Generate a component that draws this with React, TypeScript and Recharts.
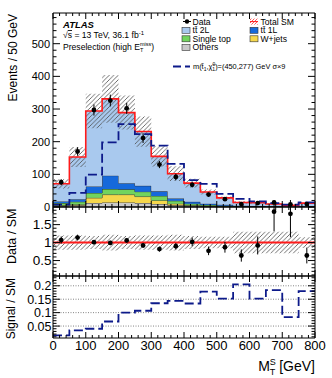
import React from 'react';
import { ComposedChart, Area, Line, Scatter, ErrorBar, XAxis, YAxis, ReferenceLine } from 'recharts';

const FONT = '"Liberation Sans", Arial, Helvetica, sans-serif';

// ---------------- data ----------------
const binLow = [0, 50, 100, 150, 200, 250, 300, 350, 400, 450, 500, 550, 600, 650, 700, 750];
const binWidth = 50;
const xMax = 800;

const dataCounts = [76, 170, 297, 326, 302, 211, 130, 92, 68, 38, 24, 9, 12, 14, 8, 9];
const dataErr = [9, 13, 17, 18, 17, 15, 11, 10, 8, 6, 5, 3, 3.5, 3.7, 2.8, 3];
const totalSM = [71, 153, 294, 331, 289, 231, 155, 102, 73, 46, 28, 14, 13, 9, 5, 12];
const others = [3, 5, 12, 14, 14, 12, 9, 5, 3, 2, 1, 0.5, 0.5, 0.3, 0.2, 0.3];
const wjets = [2, 3, 16, 24, 24, 20, 11, 5, 2, 1, 1, 0.5, 0.5, 0.3, 0.2, 0.3];
const singleTop = [7, 8, 15, 17, 16, 15, 14, 9, 5, 3, 2, 1, 1, 0.6, 0.4, 0.6];
const ttbar1L = [5, 8, 20, 41, 19, 18, 14, 7, 6, 4, 3, 2, 1, 0.8, 0.4, 0.8];
const smRelUnc = [0.2, 0.2, 0.18, 0.22, 0.18, 0.2, 0.2, 0.22, 0.18, 0.16, 0.16, 0.3, 0.3, 0.3, 0.3, 0.15];
const signalX9 = [7, 43, 99, 198, 254, 223, 188, 132, 82, 71, 40, 25, 17, 12, 7, 14];

const ratio = [1.07, 1.14, 1.01, 0.99, 1.06, 0.92, 0.82, 0.9, 1.02, 0.77, 0.87, 0.64, 0.92, 1.86, 1.8, 0.64];
const ratioErr = [0.1, 0.08, 0.06, 0.06, 0.06, 0.07, 0.07, 0.09, 0.12, 0.12, 0.15, 0.17, 0.25, 0.55, 0.65, 0.22];

const sigOverSM = [0.015, 0.034, 0.04, 0.067, 0.1, 0.107, 0.135, 0.144, 0.134, 0.178, 0.152, 0.205, 0.152, 0.184, 0.083, 0.18];

// tick labels
const xMajor = [0, 100, 200, 300, 400, 500, 600, 700, 800];
const topMajor = [0, 100, 200, 300, 400, 500];
const ratioMajor = [0.5, 1, 1.5];
const sigMajor = [0.05, 0.1, 0.15, 0.2];

const range = (a: number, b: number, s: number) => {
  const out: number[] = [];
  for (let v = a; v <= b + 1e-9; v += s) out.push(Math.round(v * 10000) / 10000);
  return out;
};
const xTicks = range(0, 800, 20);
const topTicks = range(0, 580, 20);
const ratioTicks = range(0.1, 1.9, 0.1);
const sigTicks = range(0.01, 0.23, 0.01);

// ---------------- rows ----------------
const edges = [...binLow, xMax];
const idx = (i: number) => Math.min(i, binLow.length - 1);

const topRows = edges.map((x, i) => {
  const j = idx(i);
  const tt2L = totalSM[j] - others[j] - wjets[j] - singleTop[j] - ttbar1L[j];
  return {
    x,
    others: others[j],
    wjets: wjets[j],
    single: singleTop[j],
    tt1L: ttbar1L[j],
    tt2L,
    total: totalSM[j],
    band: [totalSM[j] * (1 - smRelUnc[j]), totalSM[j] * (1 + smRelUnc[j])],
    sig: signalX9[j],
  };
});
const dataPts = binLow.map((lo, i) => ({ x: lo + binWidth / 2, y: dataCounts[i], err: dataErr[i] }));

const ratioRows = edges.map((x, i) => {
  const j = idx(i);
  return { x, band: [1 - smRelUnc[j], 1 + smRelUnc[j]] };
});
const ratioPts = binLow.map((lo, i) => ({ x: lo + binWidth / 2, y: ratio[i], err: ratioErr[i] }));

const sigRows = edges.map((x, i) => ({ x, s: sigOverSM[idx(i)] }));

// ---------------- colours ----------------
const C = {
  tt2L: '#a9c9ee',
  tt1L: '#1669db',
  single: '#72d45e',
  wjets: '#f6d74c',
  others: '#c9c9c9',
  red: '#ff1a1a',
  sig: '#0d1a8a',
  edge: '#1a1a1a',
};

// ---------------- ticks ----------------
type Orient = 'left' | 'right' | 'top' | 'bottom';
type Lab = { size: number; gap: number };
function makeTick(orient: Orient, majors: number[], majorLen: number, minorLen: number, label?: Lab) {
  return (props: any) => {
    const { x, y, payload } = props;
    const v = payload.value as number;
    const isMajor = majors.some((m) => Math.abs(m - v) < 1e-6);
    const len = isMajor ? majorLen : minorLen;
    let l: any;
    if (orient === 'bottom') l = { x1: x, x2: x, y1: y, y2: y - len };
    else if (orient === 'top') l = { x1: x, x2: x, y1: y, y2: y + len };
    else if (orient === 'left') l = { x1: x, x2: x + len, y1: y, y2: y };
    else l = { x1: x, x2: x - len, y1: y, y2: y };
    let txt = null;
    if (label && isMajor) {
      if (orient === 'left') {
        txt = (
          <text x={x - label.gap} y={y} dy="0.36em" textAnchor="end" fontSize={label.size} fontFamily={FONT} fill="#000">
            {String(v)}
          </text>
        );
      } else if (orient === 'bottom') {
        txt = (
          <text x={x} y={y + label.gap} textAnchor="middle" fontSize={label.size} fontFamily={FONT} fill="#000">
            {String(v)}
          </text>
        );
      }
    }
    return (
      <g>
        <line {...l} stroke="#000" strokeWidth={1} />
        {txt}
      </g>
    );
  };
}

const axisCommon = {
  tickSize: 0,
  tickMargin: 0,
  tickLine: false,
  interval: 0 as const,
  allowDataOverflow: true,
  axisLine: { stroke: '#000', strokeWidth: 1 },
};

const hatchDef = (id: string, color: string, w: number) => (
  <pattern id={id} patternUnits="userSpaceOnUse" width={w} height={w}>
    <path d={`M${-1},1 l2,-2 M0,${w} l${w},${-w} M${w - 1},${w + 1} l2,-2`} stroke={color} strokeWidth={0.8} />
  </pattern>
);

export default function App() {
  const W = 332;
  return (
    <div style={{ position: 'absolute', left: 0, top: 0, width: 332, height: 378, background: '#fff', fontFamily: FONT }}>
      {/* ---------- top panel ---------- */}
      <div style={{ position: 'absolute', left: 0, top: 0 }}>
        <ComposedChart width={W} height={216} data={topRows} margin={{ top: 12, right: 16, bottom: 8, left: 0 }}>
          <defs>{hatchDef('hatchTop', '#4a4a4a', 4.5)}</defs>
          <XAxis dataKey="x" type="number" domain={[0, xMax]} ticks={xTicks} height={1} {...axisCommon}
            tick={makeTick('bottom', xMajor, 6, 3)} />
          <XAxis xAxisId="t" orientation="top" dataKey="x" type="number" domain={[0, xMax]} ticks={xTicks} height={1} {...axisCommon}
            tick={makeTick('top', xMajor, 6, 3)} />
          <YAxis type="number" domain={[0, 594]} ticks={topTicks} width={53} {...axisCommon}
            tick={makeTick('left', topMajor, 7, 3.5, { size: 11, gap: 3 })} />
          <YAxis yAxisId="r" orientation="right" type="number" domain={[0, 594]} ticks={topTicks} width={1} {...axisCommon}
            tick={makeTick('right', topMajor, 7, 3.5)} />
          <Area dataKey="others" stackId="s" type="stepAfter" fill={C.others} fillOpacity={1} stroke={C.edge} strokeWidth={0.8} isAnimationActive={false} />
          <Area dataKey="wjets" stackId="s" type="stepAfter" fill={C.wjets} fillOpacity={1} stroke={C.edge} strokeWidth={0.8} isAnimationActive={false} />
          <Area dataKey="single" stackId="s" type="stepAfter" fill={C.single} fillOpacity={1} stroke={C.edge} strokeWidth={0.8} isAnimationActive={false} />
          <Area dataKey="tt1L" stackId="s" type="stepAfter" fill={C.tt1L} fillOpacity={1} stroke={C.edge} strokeWidth={0.8} isAnimationActive={false} />
          <Area dataKey="tt2L" stackId="s" type="stepAfter" fill={C.tt2L} fillOpacity={1} stroke="none" isAnimationActive={false} />
          <Area dataKey="band" type="stepAfter" fill="url(#hatchTop)" fillOpacity={1} stroke="none" isAnimationActive={false} />
          <Line dataKey="total" type="stepAfter" stroke={C.red} strokeWidth={1.6} dot={false} isAnimationActive={false} />
          <Line dataKey="sig" type="stepAfter" stroke={C.sig} strokeWidth={1.8} strokeDasharray="9 4" dot={false} isAnimationActive={false} />
          <Scatter data={dataPts} dataKey="y" fill="#000" isAnimationActive={false}
            shape={(p: any) => <circle cx={p.cx} cy={p.cy} r={2.4} fill="#000" />}>
            <ErrorBar dataKey="err" width={0} stroke="#000" strokeWidth={1} direction="y" />
          </Scatter>
        </ComposedChart>
      </div>

      {/* ---------- ratio panel ---------- */}
      <div style={{ position: 'absolute', left: 0, top: 200 }}>
        <ComposedChart width={W} height={80} data={ratioRows} margin={{ top: 6, right: 16, bottom: 3, left: 0 }}>
          <defs>{hatchDef('hatchRatio', '#4a4a4a', 4.5)}</defs>
          <XAxis dataKey="x" type="number" domain={[0, xMax]} ticks={xTicks} height={1} {...axisCommon}
            tick={makeTick('bottom', xMajor, 6, 3)} />
          <XAxis xAxisId="t" orientation="top" dataKey="x" type="number" domain={[0, xMax]} ticks={xTicks} height={1} {...axisCommon}
            tick={makeTick('top', xMajor, 6, 3)} />
          <YAxis type="number" domain={[0.07, 1.99]} ticks={ratioTicks} width={53} {...axisCommon}
            tick={makeTick('left', ratioMajor, 7, 3.5, { size: 13.5, gap: 1.5 })} />
          <YAxis yAxisId="r" orientation="right" type="number" domain={[0.07, 1.99]} ticks={ratioTicks} width={1} {...axisCommon}
            tick={makeTick('right', ratioMajor, 7, 3.5)} />
          <Area dataKey="band" type="stepAfter" fill="url(#hatchRatio)" fillOpacity={1} stroke="none" isAnimationActive={false} />
          <ReferenceLine y={1} stroke={C.red} strokeWidth={2} />
          <Scatter data={ratioPts} dataKey="y" fill="#000" isAnimationActive={false}
            shape={(p: any) => <circle cx={p.cx} cy={p.cy} r={2.4} fill="#000" />}>
            <ErrorBar dataKey="err" width={0} stroke="#000" strokeWidth={1} direction="y" />
          </Scatter>
        </ComposedChart>
      </div>

      {/* ---------- signal / SM panel ---------- */}
      <div style={{ position: 'absolute', left: 0, top: 270 }}>
        <ComposedChart width={W} height={108} data={sigRows} margin={{ top: 5, right: 16, bottom: 39, left: 0 }}>
          <XAxis dataKey="x" type="number" domain={[0, xMax]} ticks={xTicks} height={1} {...axisCommon}
            tick={makeTick('bottom', xMajor, 6, 3, { size: 13, gap: 12 })} />
          <XAxis xAxisId="t" orientation="top" dataKey="x" type="number" domain={[0, xMax]} ticks={xTicks} height={1} {...axisCommon}
            tick={makeTick('top', xMajor, 6, 3)} />
          <YAxis type="number" domain={[0.0055, 0.2365]} ticks={sigTicks} width={53} {...axisCommon}
            tick={makeTick('left', sigMajor, 7, 3.5, { size: 12.5, gap: 1.5 })} />
          <YAxis yAxisId="r" orientation="right" type="number" domain={[0.0055, 0.2365]} ticks={sigTicks} width={1} {...axisCommon}
            tick={makeTick('right', sigMajor, 7, 3.5)} />
          {sigMajor.map((v) => (
            <ReferenceLine key={v} y={v} stroke="#666" strokeWidth={0.8} strokeDasharray="1 1.5" />
          ))}
          <Line dataKey="s" type="stepAfter" stroke={C.sig} strokeWidth={1.8} strokeDasharray="9 4" dot={false} isAnimationActive={false} />
        </ComposedChart>
      </div>

      {/* ---------- text overlay ---------- */}
      <svg width={332} height={378} style={{ position: 'absolute', left: 0, top: 0, pointerEvents: 'none' }} fontFamily={FONT}>
        <defs>{hatchDef('hatchRed', '#ff3030', 3)}</defs>
        {/* axis titles */}
        <text transform="translate(16.5,14) rotate(-90)" textAnchor="end" fontSize={12}>Events / 50 GeV</text>
        <text transform="translate(16,208.5) rotate(-90)" textAnchor="end" fontSize={12.5}>Data / SM</text>
        <text transform="translate(15,278) rotate(-90)" textAnchor="end" fontSize={12}>Signal / SM</text>
        <text x={315} y={371} textAnchor="end" fontSize={14}>
          M<tspan fontSize={9} dy={-6}>S</tspan><tspan fontSize={9} dx={-6} dy={10}>T</tspan><tspan dy={-4}> [GeV]</tspan>
        </text>

        {/* ATLAS label */}
        <text x={63} y={27.5} fontSize={9.5} fontWeight="bold" fontStyle="italic">ATLAS</text>
        <text x={63} y={38} fontSize={8.6}>
          √<tspan style={{ textDecoration: 'overline' }}>s</tspan> = 13 TeV, 36.1 fb<tspan dy={-3.5} fontSize={6}>-1</tspan>
        </text>
        <text x={63} y={49.5} fontSize={8.6}>
          Preselection (high E<tspan fontSize={5.5} dy={-4}>miss</tspan>
          <tspan fontSize={5.5} dx={-11.3} dy={6.5}>T</tspan>
          <tspan dx={8} dy={-2.5}>)</tspan>
        </text>

        {/* legend col 1 */}
        <line x1={183} x2={191} y1={21.5} y2={21.5} stroke="#000" strokeWidth={1} />
        <circle cx={187} cy={21.5} r={2.2} fill="#000" />
        <text x={192.5} y={24.6} fontSize={8.6}>Data</text>

        <rect x={182} y={27.3} width={8} height={6} fill={C.tt2L} stroke="#333" strokeWidth={0.6} />
        <text x={192.5} y={33.2} fontSize={8.6}>tt̄ 2L</text>

        <rect x={182} y={35.8} width={8} height={6} fill={C.single} stroke="#333" strokeWidth={0.6} />
        <text x={192.5} y={41.7} fontSize={8.6}>Single top</text>

        <rect x={182} y={44.5} width={8} height={6} fill={C.others} stroke="#333" strokeWidth={0.6} />
        <text x={192.5} y={50.4} fontSize={8.6}>Others</text>

        {/* legend col 2 */}
        <rect x={250} y={18.6} width={8} height={6} fill="url(#hatchRed)" />
        <line x1={250} x2={258} y1={21.6} y2={21.6} stroke={C.red} strokeWidth={1} />
        <text x={260.5} y={24.6} fontSize={8.6}>Total SM</text>

        <rect x={250} y={27.3} width={8} height={6} fill={C.tt1L} stroke="#333" strokeWidth={0.6} />
        <text x={260.5} y={33.2} fontSize={8.6}>tt̄ 1L</text>

        <rect x={250} y={35.8} width={8} height={6} fill={C.wjets} stroke="#333" strokeWidth={0.6} />
        <text x={260.5} y={41.7} fontSize={8.6}>W+jets</text>

        {/* signal legend */}
        <line x1={173} x2={190} y1={66.5} y2={66.5} stroke={C.sig} strokeWidth={1.8} strokeDasharray="8 4" />
        <text x={193} y={69} fontSize={7.4}>
          m(t̃<tspan fontSize={5} dy={2}>1</tspan><tspan dy={-2}>,χ̃</tspan><tspan fontSize={5} dy={-3}>0</tspan><tspan fontSize={5} dx={-2.8} dy={5}>1</tspan><tspan dy={-2}>)=(450,277) GeV σ×9</tspan>
        </text>
      </svg>
    </div>
  );
}
